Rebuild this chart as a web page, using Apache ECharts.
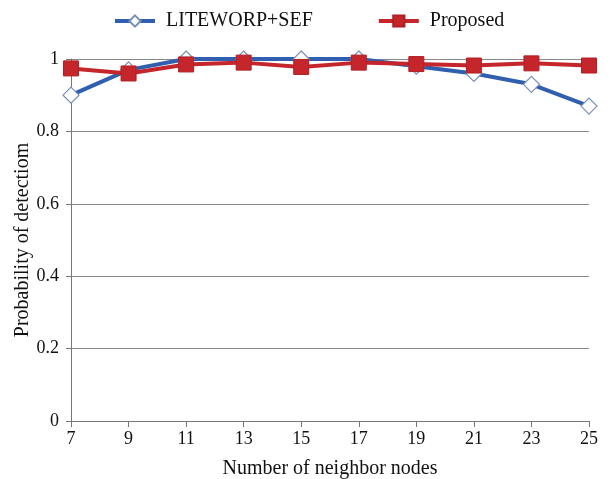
<!DOCTYPE html>
<html><head><meta charset="utf-8">
<script src="https://cdn.jsdelivr.net/npm/echarts@6/dist/echarts.min.js"></script>
<style>html,body{margin:0;padding:0;background:#fff}#c{width:610px;height:479px}</style>
</head><body><div id="c"></div>
<script>
const categories = ['7','9','11','13','15','17','19','21','23','25'];
const liteworp = [0.90, 0.97, 1.00, 1.00, 1.00, 1.00, 0.98, 0.96, 0.93, 0.87];
const proposed = [0.974, 0.96, 0.985, 0.99, 0.978, 0.99, 0.986, 0.982, 0.988, 0.982];
const yTicks = [0, 0.2, 0.4, 0.6, 0.8, 1];
const font = 'Liberation Serif';
const chart = echarts.init(document.getElementById('c'));
chart.setOption({
  backgroundColor: '#fff',
  animation: false,
  textStyle: {fontFamily: font},
  legend: {
    top: 6, left: 108, itemGap: 64, itemWidth: 40, itemHeight: 14,
    lineStyle: {width: 4},
    textStyle: {fontFamily: font, fontSize: 20, color: '#111', padding: [0, 0, 0, 6]},
    data: ['LITEWORP+SEF', 'Proposed']
  },
  grid: {left: 71, right: 21, top: 59, bottom: 58, containLabel: false, outerBoundsMode: 'none'},
  xAxis: {
    type: 'category', data: categories, boundaryGap: false,
    name: 'Number of neighbor nodes', nameLocation: 'middle', nameGap: 38,
    nameMoveOverlap: false,
    nameTextStyle: {fontFamily: font, fontSize: 20, color: '#111'},
    axisLine: {lineStyle: {color: '#777', width: 1}},
    axisTick: {show: true, length: 6, lineStyle: {color: '#777'}},
    axisLabel: {fontFamily: font, fontSize: 18, color: '#111', margin: 9}
  },
  yAxis: {
    type: 'value', min: 0, max: 1, interval: 0.2,
    name: 'Probability of detectiom', nameLocation: 'middle', nameGap: 38,
    nameMoveOverlap: false,
    nameTextStyle: {fontFamily: font, fontSize: 20, color: '#111'},
    axisLine: {show: true, lineStyle: {color: '#777'}},
    axisTick: {show: true, length: 5, lineStyle: {color: '#777'}},
    axisLabel: {fontFamily: font, fontSize: 18, color: '#111', margin: 12,
      formatter: v => { const t = yTicks.find(x => Math.abs(x - v) < 1e-9); return t === undefined ? '' : String(t); }},
    splitLine: {show: true, lineStyle: {color: '#888', width: 1}}
  },
  series: [
    {
      name: 'LITEWORP+SEF', type: 'line', data: liteworp,
      symbol: 'diamond', symbolSize: 16,
      lineStyle: {color: '#2f5fae', width: 4},
      itemStyle: {color: '#ffffff', borderColor: '#7a8fb5', borderWidth: 1.2},
      z: 2
    },
    {
      name: 'Proposed', type: 'line', data: proposed,
      symbol: 'rect', symbolSize: 15,
      lineStyle: {color: '#c4262c', width: 4},
      itemStyle: {color: '#c4262c', borderColor: '#b01f25', borderWidth: 1},
      z: 3
    }
  ]
});
</script></body></html>
